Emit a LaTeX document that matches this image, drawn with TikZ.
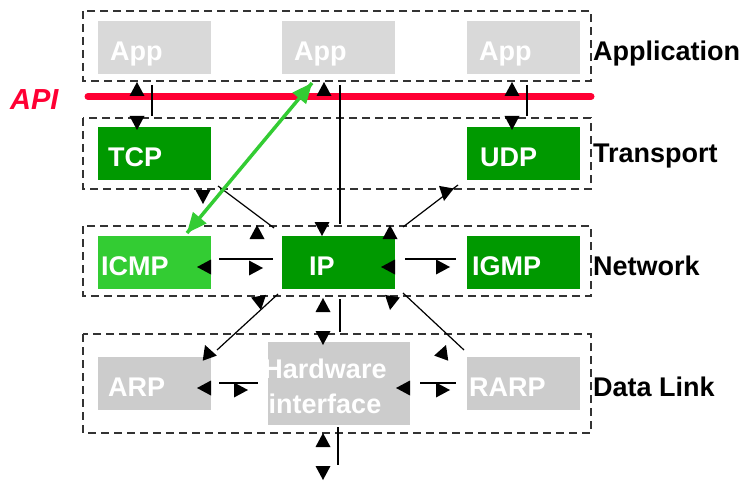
\documentclass[tikz,border=0pt]{standalone}
\usepackage{fontspec}
\setmainfont{Liberation Sans}
\definecolor{appgray}{HTML}{D9D9D9}
\definecolor{dlgray}{HTML}{CCCCCC}
\definecolor{dkgreen}{HTML}{009900}
\definecolor{ltgreen}{HTML}{33CC33}
\definecolor{apired}{HTML}{FF0033}
\newcommand{\tipat}[3]{\fill[black,shift={(#1,#2)},rotate=-#3] (0,0) -- (-14,7.5) -- (-14,-7.5) -- cycle;}
\begin{document}
\begin{tikzpicture}[x=1pt,y=-1pt,
  layer/.style={draw=black!80,line width=1.2pt,dash pattern=on 8pt off 5pt},
  box/.style={rectangle,inner sep=0pt,minimum width=113pt,minimum height=53pt,anchor=north west},
  lbl/.style={anchor=base west,inner sep=0pt,text=white,font=\fontsize{27}{32}\selectfont\bfseries},
  side/.style={anchor=base west,inner sep=0pt,text=black,font=\fontsize{27}{32}\selectfont\bfseries},
  conn/.style={line width=1.2pt}]
\useasboundingbox (0,0) rectangle (746,481);
% layers
\draw[layer] (83,11) rectangle (591,81);
\draw[layer] (83,118) rectangle (591,189);
\draw[layer] (83,226) rectangle (591,296);
\draw[layer] (83,334) rectangle (591,433);
% API line
\draw[apired,line width=7pt,line cap=round] (88,96.5) -- (591,96.5);
\node[anchor=base west,inner sep=0pt,text=apired,font=\fontsize{29}{34}\selectfont\bfseries\itshape] (api) at (10,110) {API};
% boxes
\node[box,fill=appgray] (app1) at (98,21) {};
\node[box,fill=appgray] (app2) at (282,21) {};
\node[box,fill=appgray] (app3) at (467,21) {};
\node[box,fill=dkgreen] (tcp) at (98,127) {};
\node[box,fill=dkgreen] (udp) at (467,127) {};
\node[box,fill=ltgreen] (icmp) at (98,236) {};
\node[box,fill=dkgreen] (ip) at (282,236) {};
\node[box,fill=dkgreen] (igmp) at (467,236) {};
\node[box,fill=dlgray] (arp) at (98,357) {};
\node[box,fill=dlgray,minimum width=142pt,minimum height=83pt] (hw) at (268,342) {};
\node[box,fill=dlgray] (rarp) at (467,357) {};
% box texts
\node[lbl] (tapp1) at (110,61) {App};
\node[lbl] (tapp2) at (294,61) {App};
\node[lbl] (tapp3) at (479,61) {App};
\node[lbl] (ttcp) at (108,167) {TCP};
\node[lbl] (tudp) at (480,167) {UDP};
\node[lbl] (ticmp) at (101,275) {ICMP};
\node[lbl] (tip) at (309,275) {IP};
\node[lbl] (tigmp) at (472,275) {IGMP};
\node[lbl] (tarp) at (108,396) {ARP};
\node[lbl] (trarp) at (469,396) {RARP};
\begin{scope}
\clip (268,342) rectangle (410,425);
\node[lbl,anchor=base] (thw1) at (325,378) {Hardware};
\node[lbl,anchor=base] (thw2) at (325,413) {interface};
\end{scope}
% side labels
\node[side] (lapp) at (593,61) {Application};
\node[side] (ltr) at (593,163) {Transport};
\node[side] (lnet) at (593,275) {Network};
\node[side] (ldl) at (593,396) {Data Link};
% connector end points
\coordinate (c1a) at (152,85);  \coordinate (c1b) at (152,116);
\coordinate (c2a) at (340,85);  \coordinate (c2b) at (340,224);
\coordinate (c3a) at (527,85);  \coordinate (c3b) at (527,116);
\coordinate (c4a) at (218,186); \coordinate (c4b) at (274,228);
\coordinate (c5a) at (458,185); \coordinate (c5b) at (403,227);
\coordinate (c6a) at (219,259); \coordinate (c6b) at (273,259);
\coordinate (c7a) at (405,259); \coordinate (c7b) at (456,259);
\coordinate (c8a) at (278,294); \coordinate (c8b) at (217,350);
\coordinate (c9a) at (403,293); \coordinate (c9b) at (464,350);
\coordinate (c10a) at (340,299); \coordinate (c10b) at (340,332);
\coordinate (c11a) at (219,383); \coordinate (c11b) at (258,383);
\coordinate (c12a) at (420,383); \coordinate (c12b) at (456,383);
\coordinate (c13a) at (338,427); \coordinate (c13b) at (338,465);
% connectors
\foreach \n in {1,...,13}{\draw[conn] (c\n a) -- (c\n b);}
% arrow tips
\tipat{137}{82}{-90} \tipat{137}{130}{90}
\tipat{324}{82}{-90} \tipat{322}{236}{90}
\tipat{512}{82}{-90} \tipat{512}{130}{90}
\tipat{203}{204}{90} \tipat{257}{225}{-90}
\tipat{444}{201}{100} \tipat{390}{225}{-90}
\tipat{197}{267}{180} \tipat{263}{268}{0}
\tipat{381}{267}{180} \tipat{450}{267}{0}
\tipat{261}{310}{80} \tipat{205}{345}{-110}
\tipat{390}{310}{100} \tipat{446}{345}{-70}
\tipat{323}{298}{-90} \tipat{323}{345}{90}
\tipat{197}{388}{180} \tipat{248}{390}{0}
\tipat{396}{388}{180} \tipat{450}{390}{0}
\tipat{323}{433}{-90} \tipat{323}{480}{90}
% green API arrow
\coordinate (g1) at (312,83);
\coordinate (g2) at (187,233);
\draw[ltgreen,line width=3.5pt] (g1) -- (g2);
\fill[ltgreen,shift={(g1)},rotate=50.2] (0,0) -- (-20,9) -- (-20,-9) -- cycle;
\fill[ltgreen,shift={(g2)},rotate=-129.8] (0,0) -- (-20,9) -- (-20,-9) -- cycle;
\end{tikzpicture}
\end{document}
